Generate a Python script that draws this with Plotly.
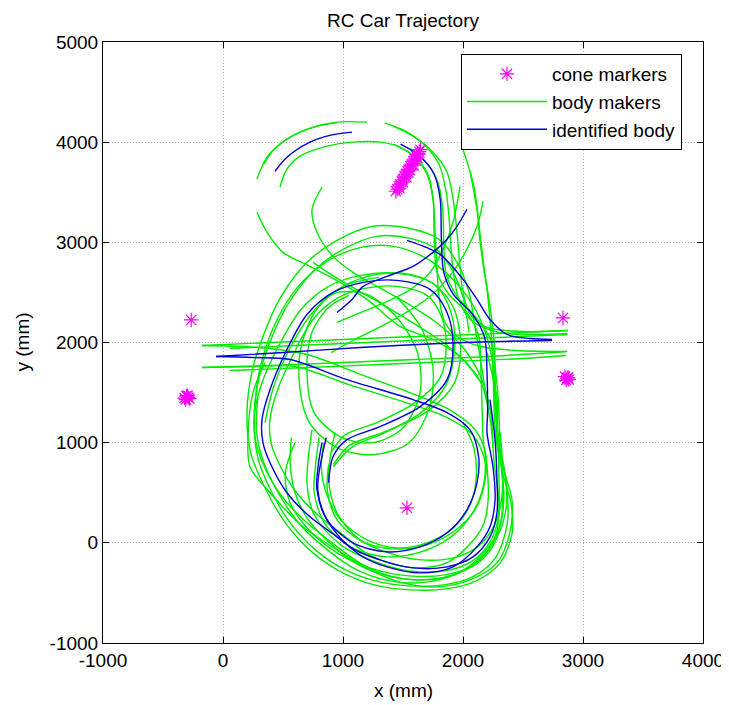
import plotly.graph_objects as go

# ---------------- data (mm) ----------------
x_ticks = [-1000, 0, 1000, 2000, 3000, 4000]
x_tick_labels = ["-1000", "0", "1000", "2000", "3000", "4000"]
y_ticks = [-1000, 0, 1000, 2000, 3000, 4000, 5000]
y_tick_labels = ["-1000", "0", "1000", "2000", "3000", "4000", "5000"]

cone_x = [-265, -320, -305, -290, -280, -310, -295,
          2833, 2850, 2868, 2882, 2860, 2876,
          1533,
          1440, 1452, 1465, 1475, 1490, 1500, 1512, 1525, 1538, 1548, 1560,
          1572, 1585, 1598, 1610, 1622, 1635, 1645, 1470, 1500, 1530, 1560, 1590, 1620]
cone_y = [2225, 1445, 1465, 1450, 1440, 1430, 1470,
          2245, 1660, 1645, 1630, 1625, 1650,
          350,
          3510, 3530, 3560, 3580, 3610, 3630, 3660, 3680, 3710, 3730, 3760,
          3780, 3810, 3830, 3860, 3880, 3905, 3925, 3540, 3600, 3650, 3720, 3770, 3840]

# identified body tracks
b1_x = [433, 533, 725, 900, 1075]
b1_y = [3710, 3850, 4000, 4070, 4100]
b2_x = [1480, 1640, 1760, 1810, 1820, 1840, 1920, 2080, 2180, 2200, 2205, 2200, 2250, 2267, 2225,
        2117, 1917, 1642, 1367, 1167, 950, 725, 533, 392, 333, 325, 392, 533, 700, 917,
        1167, 1450, 1725, 1867, 1917, 1867, 1642, 1308, 1033, 917, 880]
b2_y = [3980, 3860, 3680, 3430, 3030, 2700, 2480, 2280, 2050, 1700, 1300, 1100, 760, 430, 160,
        -40, -240, -300, -240, -140, 60, 260, 500, 800, 1000, 1230, 1530, 1930, 2280, 2500,
        2600, 2620, 2530, 2300, 1980, 1630, 1360, 1160, 1030, 860, 600]
b3_x = [-58, 250, 558, 1033, 1583, 1867, 2058, 2130, 2117, 2033, 1867, 1642, 1367, 1083, 867, 783, 792, 825]
b3_y = [1860, 1850, 1830, 1630, 1430, 1300, 1130, 860, 600, 330, 100, -40, -90, 0, 230, 530, 760, 1000]
b4_x = [-58, 500, 1142, 1800, 2300, 2742]
b4_y = [1860, 1900, 1950, 1990, 2010, 2020]
b5_x = [1533, 1808, 2000, 2117, 2225, 2367, 2558, 2742]
b5_y = [3020, 2880, 2630, 2430, 2230, 2080, 2040, 2030]
b6_x = [950, 1075, 1167, 1367, 1583, 1750, 1867, 1950, 2033]
b6_y = [2300, 2430, 2560, 2660, 2760, 2900, 3030, 3160, 3330]
b7_x = [860, 790, 867, 1058, 1308, 1583, 1867, 2083, 2225, 2283, 2283, 2267, 2225]
b7_y = [1050, 530, 230, -40, -170, -250, -240, -140, 60, 300, 630, 1030, 1430]

# body marker tracks
g1_x = [283, 367, 533, 725, 950, 1200]
g1_y = [3630, 3850, 4030, 4140, 4200, 4200]
g2_x = [340, 420, 560, 760, 950]
g2_y = [3780, 3920, 4050, 4150, 4195]
g3_x = [475, 533, 642, 867, 1083, 1308, 1475, 1600, 1700, 1750, 1767, 1783, 1800, 1850, 1950, 2150, 2450, 2860]
g3_y = [3550, 3730, 3860, 3960, 4000, 4000, 3950, 3850, 3680, 3430, 3100, 2760, 2450, 2200, 2060, 1960, 1920, 1910]
g4_x = [1417, 1583, 1750, 1867, 1917, 1950, 1975, 2000, 2060, 2200, 2500, 2875]
g4_y = [4160, 4060, 3900, 3700, 3430, 3100, 2760, 2500, 2280, 2150, 2110, 2120]
g5_x = [1350, 1520, 1680, 1800, 1860, 1890, 1910, 1960, 2060, 2300, 2600, 2870]
g5_y = [4190, 4110, 3970, 3780, 3500, 3150, 2800, 2450, 2230, 2100, 2080, 2090]
g6_x = [1560, 1700, 1790, 1830, 1840, 1860, 1950, 2100, 2230, 2250, 2260, 2280, 2320, 2340, 2300,
        2180, 1960, 1660, 1360, 1140, 910, 680, 480, 330, 270, 260, 320, 470, 650, 880,
        1150, 1450, 1750, 1920, 1980, 1930, 1700, 1350, 1050, 920]
g6_y = [3940, 3790, 3600, 3350, 3000, 2680, 2460, 2260, 2030, 1700, 1300, 1000, 750, 430, 140,
        -90, -300, -370, -320, -200, 0, 220, 480, 800, 1030, 1260, 1580, 1980, 2330, 2560,
        2670, 2690, 2590, 2350, 1990, 1600, 1310, 1110, 970, 780]
g7_x = [1420, 1580, 1700, 1750, 1760, 1780, 1870, 2030, 2130, 2150, 2160, 2170, 2200, 2210, 2170,
        2060, 1880, 1630, 1380, 1190, 990, 780, 600, 460, 400, 390, 450, 590, 750, 950,
        1180, 1450, 1700, 1820, 1860, 1810, 1600, 1280, 1020, 900]
g7_y = [3980, 3870, 3700, 3450, 3050, 2720, 2500, 2300, 2070, 1700, 1300, 1000, 760, 440, 180,
        -10, -190, -250, -200, -100, 90, 290, 520, 810, 1000, 1220, 1510, 1890, 2230, 2440,
        2540, 2560, 2470, 2260, 1970, 1650, 1400, 1200, 1080, 900]
g8_x = [283, 367, 500, 725, 975, 1200, 1475, 1750, 1980, 2150, 2230, 2260, 2300, 2270, 2140,
        1930, 1650, 1370, 1100, 880, 700, 600, 560, 570]
g8_y = [3300, 3100, 2900, 2760, 2600, 2430, 2160, 2030, 1850, 1600, 1200, 800, 400, 60, -170,
        -320, -370, -330, -200, 10, 250, 500, 800, 1050]
g9_x = [825, 742, 783, 917, 1083, 1300, 1550, 1800, 2000, 2150, 2230, 2250]
g9_y = [3550, 3330, 3100, 2860, 2700, 2550, 2380, 2180, 1950, 1650, 1300, 950]
g10_x = [750, 900, 1080, 1300, 1550, 1800, 2000, 2150]
g10_y = [2800, 2680, 2550, 2400, 2220, 2030, 1830, 1600]
g11_x = [2167, 2117, 2000, 1867, 1725, 1500, 1300, 1100, 900]
g11_y = [3410, 3160, 2860, 2630, 2460, 2280, 2150, 2030, 1900]
g12_x = [1975, 1917, 1833, 1725, 1550, 1350, 1150, 950]
g12_y = [3560, 3200, 2930, 2700, 2520, 2400, 2300, 2200]
g13_x = [2000, 2083, 2117, 2140, 2170, 2200, 2240, 2290, 2310, 2330, 2400, 2410, 2310, 2110, 1860,
         1560, 1260, 1000, 750, 520, 350, 230, 200, 240, 330, 480, 700, 950, 1250, 1550,
         1800, 1950, 2050, 2100, 2150, 2200]
g13_y = [3930, 3600, 3360, 3030, 2760, 2530, 2030, 1500, 1000, 700, 400, 100, -200, -380, -460,
         -470, -420, -300, -100, 200, 550, 900, 1300, 1700, 2050, 2450, 2800, 3020, 3160, 3140,
         3030, 2800, 2500, 2150, 1800, 1400]
g14_x = [1050, 880, 740, 700, 760, 975, 1250, 1500, 1642, 1620, 1450, 1200, 960, 800]
g14_y = [2470, 2350, 2100, 1700, 1300, 1060, 1000, 1150, 1500, 1900, 2250, 2480, 2500, 2400]
g15_x = [1300, 1000, 780, 650, 640, 720, 950, 1250, 1550, 1720, 1750, 1650, 1450]
g15_y = [2650, 2560, 2330, 1950, 1550, 1200, 950, 880, 1000, 1350, 1750, 2150, 2450]
g16_x = [-175, 250, 600, 1050, 1550, 1850, 2080, 2180, 2170, 2080, 1900, 1650, 1370, 1080, 850, 760, 770, 800]
g16_y = [1750, 1760, 1760, 1580, 1390, 1260, 1080, 830, 570, 300, 60, -90, -140, -50, 190, 500, 760, 1050]
g17_x = [-175, 300, 700, 1150, 1600, 1900, 2100, 2190, 2180, 2100, 1930, 1700, 1420, 1150, 950, 870, 880]
g17_y = [1970, 1950, 1880, 1680, 1480, 1320, 1130, 880, 600, 330, 120, -20, -60, 20, 230, 520, 780]
g18_x = [-175, 400, 1000, 1600, 2100, 2500, 2875]
g18_y = [1970, 2000, 2030, 2060, 2080, 2100, 2120]
g19_x = [58, 600, 1200, 1800, 2300, 2870]
g19_y = [1940, 1970, 2000, 2030, 2050, 2080]
g20_x = [-175, 400, 1000, 1600, 2200, 2867]
g20_y = [1750, 1770, 1800, 1830, 1860, 1910]
g21_x = [58, 700, 1300, 1900, 2500, 2860]
g21_y = [1720, 1750, 1780, 1810, 1840, 1870]
g22_x = [742, 700, 760, 980, 1250, 1550, 1850, 2080, 2230, 2300, 2300, 2290, 2260]
g22_y = [1130, 600, 280, -20, -180, -280, -280, -180, 20, 280, 620, 1030, 1450]
g23_x = [933, 880, 950, 1130, 1380, 1650, 1920, 2120, 2250, 2320, 2330, 2310]
g23_y = [1100, 650, 300, 40, -100, -170, -150, -40, 150, 420, 750, 1100]
g24_x = [2200, 2283, 2290, 2333, 2408, 2390, 2283, 2058, 1783, 1500, 1225, 950, 667, 392, 225, 210, 250, 350]
g24_y = [1900, 1430, 1100, 760, 430, 100, -200, -370, -440, -400, -270, -70, 160, 500, 760, 1100, 1500, 1800]
g25_x = [260, 300, 420, 620, 880, 1150, 1420, 1680, 1900, 2080, 2200, 2260, 2280]
g25_y = [1300, 1700, 2150, 2550, 2820, 2950, 2960, 2850, 2650, 2380, 2050, 1700, 1300]
g26_x = [2060, 2120, 2150, 2180, 2220, 2260, 2270, 2290, 2360, 2370, 2270, 2080, 1840, 1550, 1270,
         1020, 780, 560, 400, 290, 260, 300, 390, 540, 760, 1000, 1280, 1560, 1780, 1910, 2000, 2050]
g26_y = [3700, 3300, 3000, 2700, 2400, 2000, 1500, 1000, 600, 200, -150, -340, -420, -430, -380,
         -270, -80, 200, 520, 850, 1250, 1650, 2000, 2380, 2720, 2930, 3060, 3040, 2930, 2720, 2450, 2100]
g27_x = [600, 520, 560, 700, 950, 1250, 1550, 1850, 2100, 2250, 2320, 2330, 2300]
g27_y = [1000, 700, 400, 150, -100, -260, -330, -320, -220, -30, 250, 600, 1000]
g28_x = [2000, 2090, 2110, 2060, 1920, 1700, 1450, 1200, 980, 860, 820, 840]
g28_y = [1200, 950, 650, 380, 150, 0, -50, 30, 230, 500, 750, 1000]
g29_x = [350, 420, 560, 760, 1000, 1280, 1560, 1780, 1900, 1930, 1860, 1650, 1350, 1080, 920]
g29_y = [1200, 1550, 1950, 2320, 2560, 2680, 2680, 2560, 2300, 1950, 1580, 1300, 1100, 960, 760]
g30_x = [2240, 2270, 2300, 2350, 2360, 2280, 2100, 1880, 1620, 1350, 1100, 880, 650, 470, 340, 280, 290]
g30_y = [1900, 1400, 1000, 700, 350, 50, -200, -340, -400, -370, -260, -80, 170, 480, 800, 1100, 1450]

green_tracks = [(g1_x, g1_y), (g2_x, g2_y), (g3_x, g3_y), (g4_x, g4_y), (g5_x, g5_y),
                (g6_x, g6_y), (g7_x, g7_y), (g8_x, g8_y), (g9_x, g9_y), (g10_x, g10_y),
                (g11_x, g11_y), (g12_x, g12_y), (g13_x, g13_y), (g14_x, g14_y), (g15_x, g15_y),
                (g16_x, g16_y), (g17_x, g17_y), (g18_x, g18_y), (g19_x, g19_y), (g20_x, g20_y),
                (g21_x, g21_y), (g22_x, g22_y), (g23_x, g23_y), (g24_x, g24_y), (g25_x, g25_y),
                (g26_x, g26_y), (g27_x, g27_y), (g28_x, g28_y), (g29_x, g29_y), (g30_x, g30_y)]
blue_tracks = [(b1_x, b1_y), (b2_x, b2_y), (b3_x, b3_y), (b4_x, b4_y), (b5_x, b5_y),
               (b6_x, b6_y), (b7_x, b7_y)]

GREEN = "rgb(0,235,0)"
BLUE = "rgb(0,0,215)"
MAGENTA = "rgb(255,0,255)"

# page offset of the figure inside the browser page (default body margin)
OFF = 8
W, H = 729 - OFF, 705 - OFF
L, T = 103 - OFF, 42 - OFF
PLOT_W, PLOT_H = 600, 601
R = W - L - PLOT_W
B = H - T - PLOT_H

fig = go.Figure()
for i, (xs, ys) in enumerate(green_tracks):
    fig.add_trace(go.Scatter(x=xs, y=ys, mode="lines",
                             line=dict(color=GREEN, width=1.4, shape="spline", smoothing=0.9),
                             name="body makers", legendgroup="g", showlegend=(i == 0),
                             legendrank=2, hoverinfo="skip"))
for i, (xs, ys) in enumerate(blue_tracks):
    fig.add_trace(go.Scatter(x=xs, y=ys, mode="lines",
                             line=dict(color=BLUE, width=1.4, shape="spline", smoothing=0.9),
                             name="identified body", legendgroup="b", showlegend=(i == 0),
                             legendrank=3, hoverinfo="skip"))
fig.add_trace(go.Scatter(x=cone_x, y=cone_y, mode="markers",
                         marker=dict(symbol="asterisk-open", size=12, color=MAGENTA,
                                     line=dict(color=MAGENTA, width=1.2)),
                         name="cone markers", legendrank=1, hoverinfo="skip"))

axis_common = dict(showgrid=True, gridcolor="#b4b4b4", griddash="1px,2px", gridwidth=1,
                   showline=True, linecolor="black", linewidth=1, mirror="ticks",
                   ticks="inside", ticklen=6, tickcolor="black", zeroline=False,
                   automargin=False, tickmode="array",
                   tickfont=dict(size=19, color="black"))

fig.update_xaxes(range=[-1000, 4000], tickvals=x_ticks, ticktext=x_tick_labels, **axis_common)
fig.update_yaxes(range=[-1000, 5000], tickvals=y_ticks, ticktext=y_tick_labels, **axis_common)

fig.update_layout(
    width=W, height=H,
    margin=dict(l=L, r=R, t=T, b=B, pad=0),
    paper_bgcolor="white", plot_bgcolor="white",
    font=dict(family="Liberation Sans, Arial, sans-serif", size=19, color="black"),
    title=dict(text="RC Car Trajectory", x=0.5, xref="paper", xanchor="center",
               y=1 - (20 - OFF) / H, yref="container", yanchor="middle", font=dict(size=19)),
    showlegend=True,
    legend=dict(x=(461 - 103) / PLOT_W, y=1 - (54 - 42) / PLOT_H, xanchor="left", yanchor="top",
                bordercolor="black", borderwidth=1, bgcolor="white",
                font=dict(size=19), itemwidth=80, tracegroupgap=0),
    annotations=[
        dict(text="x (mm)", x=0.5, xref="paper", y=-(690 - 643) / PLOT_H, yref="paper",
             showarrow=False, xanchor="center", yanchor="middle", font=dict(size=19)),
        dict(text="y (mm)", x=-(103 - 22) / PLOT_W, xref="paper", y=0.5, yref="paper",
             showarrow=False, xanchor="center", yanchor="middle", textangle=-90,
             font=dict(size=19)),
    ],
)

fig.write_html("out.html")
